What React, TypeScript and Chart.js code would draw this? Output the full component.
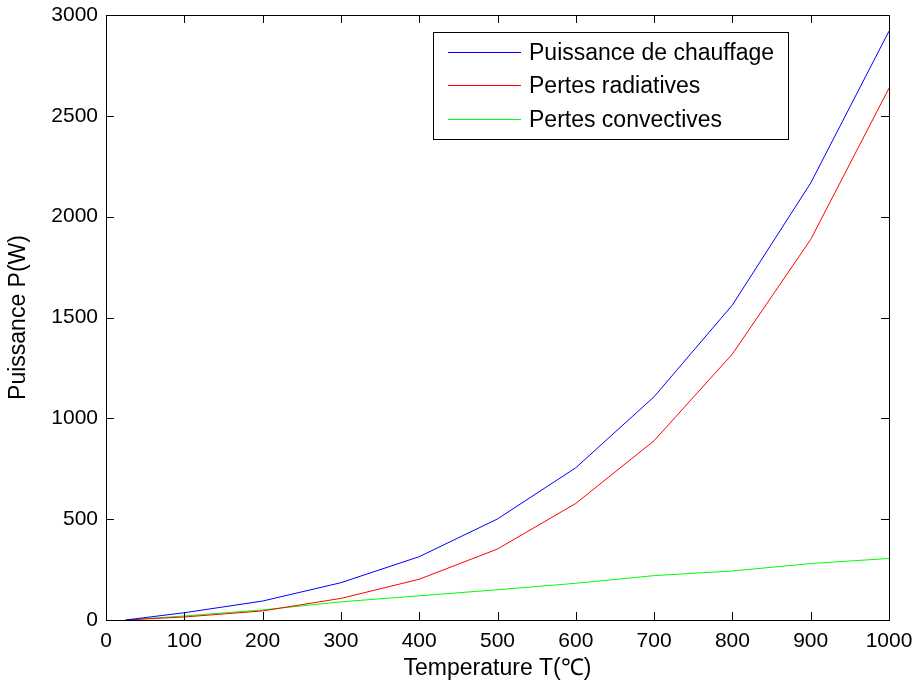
import React, { useEffect, useRef } from "react";
import { Chart, registerables } from "chart.js";

Chart.register(...registerables);

const temperatures = [25, 100, 200, 300, 400, 500, 600, 700, 800, 900, 1000];
const heatingPower = [0, 36, 94, 185, 314, 501, 755, 1107, 1562, 2167, 2920];
const radiativeLosses = [0, 15, 45, 107, 202, 352, 578, 889, 1319, 1887, 2637];
const convectiveLosses = [0, 20, 50, 90, 120, 150, 182, 220, 243, 280, 305];
const seriesLabels = ["Puissance de chauffage", "Pertes radiatives", "Pertes convectives"];
const seriesColors = ["#0000ff", "#ff0000", "#00ff00"];
const xTitle = "Temperature T(\u2103)";
const yTitle = "Puissance P(W)";

const FONT = "'Liberation Sans', Arial, Helvetica, sans-serif";
const FS = 21;
const FS_BIG = 23;

const framePlugin = {
  id: "frameTicks",
  afterDraw(chart: any) {
    const ctx = chart.ctx;
    const { left, right, top, bottom } = chart.chartArea;
    const xs = chart.scales.x;
    const ys = chart.scales.y;
    ctx.save();
    ctx.strokeStyle = "#000";
    ctx.lineWidth = 1;
    ctx.strokeRect(Math.round(left) + 0.5, Math.round(top) + 0.5, Math.round(right - left), Math.round(bottom - top));
    const tl = 8;
    ctx.beginPath();
    xs.ticks.forEach((t: any) => {
      const px = Math.round(xs.getPixelForValue(t.value)) + 0.5;
      ctx.moveTo(px, bottom);
      ctx.lineTo(px, bottom - tl);
      ctx.moveTo(px, top);
      ctx.lineTo(px, top + tl);
    });
    ys.ticks.forEach((t: any) => {
      const py = Math.round(ys.getPixelForValue(t.value)) + 0.5;
      ctx.moveTo(left, py);
      ctx.lineTo(left + tl, py);
      ctx.moveTo(right, py);
      ctx.lineTo(right - tl, py);
    });
    ctx.stroke();

    // legend box
    const bx = 433, by = 32, bw = 355, bh = 107;
    ctx.fillStyle = "#fff";
    ctx.fillRect(bx, by, bw, bh);
    ctx.strokeRect(bx + 0.5, by + 0.5, bw, bh);
    ctx.font = `${FS_BIG}px ${FONT}`;
    ctx.textBaseline = "middle";
    ctx.textAlign = "left";
    chart.data.datasets.forEach((ds: any, i: number) => {
      const y = Math.round(by + 19.5 + i * 33.5) + 0.5;
      ctx.strokeStyle = ds.borderColor;
      ctx.beginPath();
      ctx.moveTo(448, y);
      ctx.lineTo(521, y);
      ctx.stroke();
      ctx.fillStyle = "#000";
      ctx.fillText(ds.label, 529, y + 1);
    });
    ctx.restore();
  },
};

export default function App() {
  const ref = useRef<HTMLCanvasElement>(null);
  useEffect(() => {
    if (!ref.current) return;
    const values = [heatingPower, radiativeLosses, convectiveLosses];
    const noPad = (s: any) => {
      s.paddingLeft = 0;
      s.paddingRight = 0;
      s.paddingTop = 0;
      s.paddingBottom = 0;
    };
    const chart = new Chart(ref.current, {
      type: "line",
      data: {
        datasets: values.map((v, i) => ({
          label: seriesLabels[i],
          data: temperatures.map((t, j) => ({ x: t, y: v[j] })),
          borderColor: seriesColors[i],
          backgroundColor: seriesColors[i],
          borderWidth: 1,
          pointRadius: 0,
          tension: 0,
          fill: false,
        })),
      },
      options: {
        animation: false,
        responsive: false,
        maintainAspectRatio: false,
        layout: { padding: { left: 0, top: 15, right: 27, bottom: 0 } },
        plugins: { legend: { display: false }, tooltip: { enabled: false } },
        scales: {
          x: {
            type: "linear",
            min: 0,
            max: 1000,
            grid: { display: false, drawTicks: false },
            border: { display: false },
            ticks: {
              stepSize: 100,
              color: "#000",
              font: { family: FONT, size: FS },
              padding: 9,
              maxRotation: 0,
              callback: (v: any) => String(v),
            },
            title: { display: true, text: xTitle, color: "#000", font: { family: FONT, size: FS_BIG }, padding: { top: 0, bottom: 4 } },
            afterFit(s: any) {
              s.height = 66;
              noPad(s);
            },
          },
          y: {
            min: 0,
            max: 3000,
            grid: { display: false, drawTicks: false },
            border: { display: false },
            ticks: {
              stepSize: 500,
              color: "#000",
              font: { family: FONT, size: FS },
              padding: 8,
              callback: (v: any) => String(v),
            },
            title: { display: true, text: yTitle, color: "#000", font: { family: FONT, size: FS_BIG }, padding: { top: 5, bottom: 0 } },
            afterFit(s: any) {
              s.width = 106;
              noPad(s);
            },
          },
        },
      },
      plugins: [framePlugin],
    });
    return () => chart.destroy();
  }, []);
  return (
    <div style={{ position: "fixed", left: 0, top: 0, width: 916, height: 686, background: "#fff" }}>
      <canvas ref={ref} width={916} height={686} style={{ width: 916, height: 686 }} />
    </div>
  );
}
